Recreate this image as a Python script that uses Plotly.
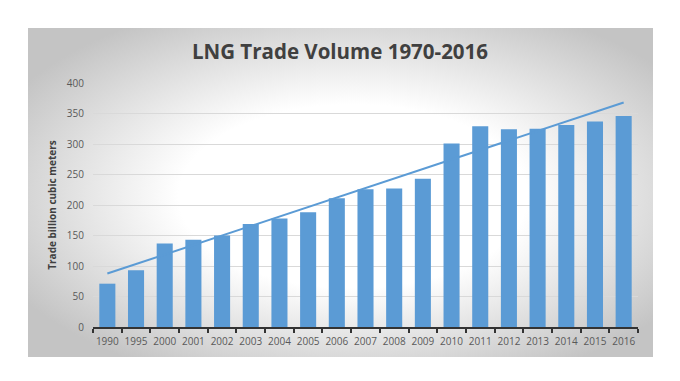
import base64
import numpy as np
import plotly.graph_objects as go

years = ["1990", "1995", "2000", "2001", "2002", "2003", "2004", "2005", "2006", "2007",
         "2008", "2009", "2010", "2011", "2012", "2013", "2014", "2015", "2016"]
volumes = [71, 93, 137, 143, 150, 169, 178, 188, 211, 226,
           227, 243, 301, 329, 324, 325, 331, 337, 346]
y_ticks = [0, 50, 100, 150, 200, 250, 300, 350, 400]

# linear trendline (least squares over category index)
idx = np.arange(len(volumes))
slope, intercept = np.polyfit(idx, volumes, 1)
trend = (slope * idx + intercept).tolist()

BLUE = "#5B9BD5"

svg = """<svg xmlns='http://www.w3.org/2000/svg' width='625' height='329' preserveAspectRatio='none'>
<defs><radialGradient id='g' cx='0.52' cy='0.5' r='0.62' fx='0.52' fy='0.52'>
<stop offset='0' stop-color='#ffffff'/>
<stop offset='0.45' stop-color='#ffffff'/>
<stop offset='1' stop-color='#c4c4c4'/>
</radialGradient></defs>
<rect width='625' height='329' fill='url(#g)'/>
</svg>"""
svg_uri = "data:image/svg+xml;base64," + base64.b64encode(svg.encode()).decode()

fig = go.Figure()
fig.add_trace(go.Bar(x=years, y=volumes, marker=dict(color=BLUE, line=dict(width=0)),
                     showlegend=False, hoverinfo="x+y"))
fig.add_trace(go.Scatter(x=years, y=trend, mode="lines",
                         line=dict(color=BLUE, width=2), showlegend=False))

# page has an 8px body margin; figure coordinates = page coordinates - 8
OFF = 8
W, H = 680 - OFF, 381 - OFF
L, R, T, B = 93 - OFF, 680 - 638, 83 - OFF, 381 - 327
pw, ph = W - L - R, H - T - B

def px2x(px):
    return (px - OFF - L) / pw

def py2y(py):
    return (H - B - (py - OFF)) / ph

fig.add_layout_image(dict(source=svg_uri, xref="paper", yref="paper",
                          x=px2x(28), y=py2y(28),
                          sizex=px2x(653) - px2x(28), sizey=py2y(28) - py2y(357),
                          xanchor="left", yanchor="top", sizing="stretch",
                          layer="below"))

fig.update_layout(
    width=W, height=H,
    margin=dict(l=L, r=R, t=T, b=B),
    paper_bgcolor="white",
    plot_bgcolor="rgba(0,0,0,0)",
    bargap=0.44,
    title=dict(text="<b>LNG Trade Volume 1970-2016</b>",
               font=dict(family="Open Sans", size=20.5, color="#404040"),
               x=(340 - OFF) / W, xanchor="center", xref="container",
               y=1 - (52 - OFF) / H, yanchor="middle"),
    font=dict(family="Open Sans", color="#595959", size=10),
)
fig.update_xaxes(type="category", showgrid=False, showline=True, linecolor="#333333",
                 linewidth=2, ticks="outside", tickson="boundaries", ticklen=4,
                 tickwidth=2, tickcolor="#333333", tickangle=0, automargin=False,
                 ticklabelstandoff=4,
                 tickfont=dict(family="Open Sans", size=10, color="#595959"))
fig.update_yaxes(range=[0, 400], tickvals=y_ticks, showgrid=True, gridcolor="#d9d9d9",
                 gridwidth=1, zeroline=False, showline=False, ticks="", automargin=False,
                 ticklabelstandoff=8,
                 tickfont=dict(family="Open Sans", size=10, color="#595959"),
                 title=dict(text="<b>Trade billion cubic meters</b>",
                            font=dict(family="Open Sans", size=10, color="#404040"),
                            standoff=8))

fig.write_html("out.html")
